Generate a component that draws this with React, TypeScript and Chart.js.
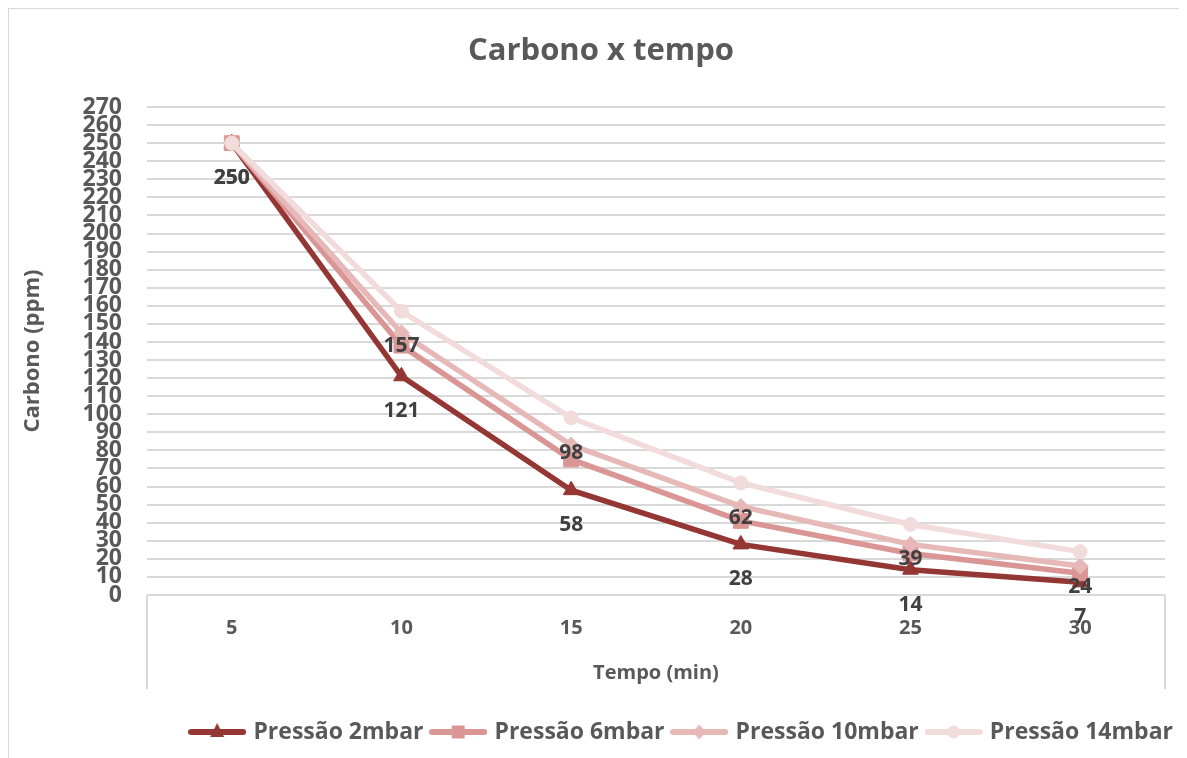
import React, { useEffect, useRef } from "react";
import { Chart, registerables } from "chart.js";

Chart.register(...registerables);

const categories = ["5", "10", "15", "20", "25", "30"];
const p2 = [250, 121, 58, 28, 14, 7];
const p6 = [250, 138, 75, 41, 23, 12];
const p10 = [250, 145, 83, 49, 28, 16];
const p14 = [250, 157, 98, 62, 39, 24];
const seriesNames = ["Pressão 2mbar", "Pressão 6mbar", "Pressão 10mbar", "Pressão 14mbar"];
const seriesColors = ["#943634", "#D99694", "#E6B9B8", "#F2DCDB"];
const seriesStyles = ["triangle", "rect", "rectRot", "circle"];
const seriesRadius = [9, 10.5, 8, 7];
const labeledSeries = [0, 3];

const FONT = "'Open Sans', 'Noto Sans', sans-serif";
const TXT = "#595959";

function makeLegendImage(color: string, style: string): HTMLCanvasElement {
  const c = document.createElement("canvas");
  c.width = 58;
  c.height = 22;
  const ctx = c.getContext("2d")!;
  const cy = 11;
  ctx.strokeStyle = color;
  ctx.lineWidth = 6;
  ctx.lineCap = "round";
  ctx.beginPath();
  ctx.moveTo(3, cy);
  ctx.lineTo(55, cy);
  ctx.stroke();
  ctx.fillStyle = color;
  const cx = 29;
  ctx.beginPath();
  if (style === "triangle") {
    ctx.moveTo(cx, cy - 9);
    ctx.lineTo(cx + 7, cy + 5);
    ctx.lineTo(cx - 7, cy + 5);
    ctx.closePath();
  } else if (style === "rect") {
    ctx.rect(cx - 6.5, cy - 6.5, 13, 13);
  } else if (style === "rectRot") {
    ctx.moveTo(cx, cy - 7.5);
    ctx.lineTo(cx + 6.5, cy);
    ctx.lineTo(cx, cy + 7.5);
    ctx.lineTo(cx - 6.5, cy);
    ctx.closePath();
  } else {
    ctx.arc(cx, cy, 6.5, 0, Math.PI * 2);
  }
  ctx.fill();
  return c;
}

const dataLabelPlugin = {
  id: "dataLabels",
  afterDatasetsDraw(chart: any) {
    const ctx = chart.ctx;
    ctx.save();
    ctx.font = `bold 21px ${FONT}`;
    ctx.fillStyle = "#404040";
    ctx.textAlign = "center";
    ctx.textBaseline = "middle";
    labeledSeries.forEach((di) => {
      const meta = chart.getDatasetMeta(di);
      const ds = chart.data.datasets[di];
      meta.data.forEach((el: any, i: number) => {
        ctx.fillText(String(ds.data[i]), el.x, el.y + 35);
      });
    });
    ctx.restore();
  },
};

const axisBoxPlugin = {
  id: "axisBox",
  afterDraw(chart: any) {
    const { ctx, chartArea } = chart;
    ctx.save();
    ctx.strokeStyle = "#d9d9d9";
    ctx.lineWidth = 2;
    ctx.beginPath();
    [chartArea.left, chartArea.right].forEach((x: number) => {
      ctx.moveTo(x, chartArea.bottom);
      ctx.lineTo(x, chartArea.bottom + 94);
    });
    ctx.stroke();
    ctx.restore();
  },
};

export default function App() {
  const ref = useRef<HTMLCanvasElement>(null);
  useEffect(() => {
    if (!ref.current) return;
    const values = [p2, p6, p10, p14];
    const legendImgs = seriesColors.map((c, i) => makeLegendImage(c, seriesStyles[i]));
    const chart = new Chart(ref.current, {
      type: "line",
      data: {
        labels: categories,
        datasets: values.map((v, i) => ({
          label: seriesNames[i],
          data: v,
          borderColor: seriesColors[i],
          backgroundColor: seriesColors[i],
          pointBackgroundColor: seriesColors[i],
          pointBorderColor: seriesColors[i],
          pointStyle: seriesStyles[i] as any,
          pointRadius: seriesRadius[i],
          pointBorderWidth: 1,
          borderWidth: 5.5,
          tension: 0,
          order: 4 - i,
          yAxisID: "y",
        })),
      },
      options: {
        responsive: false,
        animation: false,
        layout: { padding: { left: 10, right: 4, top: 0, bottom: 4.5 } },
        plugins: {
          tooltip: { enabled: false },
          title: {
            display: true,
            text: "Carbono x tempo",
            color: TXT,
            font: { family: FONT, size: 31, weight: "bold" },
            padding: { top: 24, bottom: 36.8 },
          },
          legend: {
            position: "bottom",
            align: "end",
            labels: {
              usePointStyle: true,
              pointStyleWidth: 49.5,
              padding: 10,
              color: TXT,
              font: { family: FONT, size: 23, weight: "bold" },
              sort: (a: any, b: any) => a.datasetIndex - b.datasetIndex,
              generateLabels: (ch: any) =>
                (Chart.defaults.plugins.legend.labels.generateLabels as any)(ch).map((l: any) => ({
                  ...l,
                  pointStyle: legendImgs[l.datasetIndex],
                })),
            },
          },
        },
        scales: {
          x: {
            offset: true,
            grid: { display: false, drawTicks: false },
            border: { display: false },
            ticks: {
              padding: 21,
              color: TXT,
              autoSkip: false,
              maxRotation: 0,
              font: { family: FONT, size: 20, weight: "bold" },
            },
            title: {
              display: true,
              text: "Tempo (min)",
              color: TXT,
              font: { family: FONT, size: 20, weight: "bold" },
              padding: { top: 0, bottom: 25.5 },
            },
          },
          y: {
            position: "left",
            min: 0,
            max: 270,
            grid: { color: "#d9d9d9", lineWidth: 2, drawTicks: false },
            border: { display: false },
            ticks: {
              stepSize: 10,
              autoSkip: false,
              maxTicksLimit: 100,
              padding: 25,
              color: TXT,
              font: { family: FONT, size: 23, weight: "bold" },
            },
            title: {
              display: true,
              text: "Carbono (ppm)",
              color: TXT,
              font: { family: FONT, size: 22, weight: "bold" },
              padding: { top: 0.8, bottom: 11.3 },
            },
          },
          y1: {
            position: "right",
            display: true,
            grid: { display: false, drawTicks: false },
            border: { display: false },
            ticks: { display: false },
            title: {
              display: true,
              text: "",
              font: { size: 10, lineHeight: 1 },
              padding: { top: 4, bottom: 4 },
            },
          },
        },
      } as any,
      plugins: [dataLabelPlugin, axisBoxPlugin],
    });
    return () => chart.destroy();
  }, []);

  return (
    <div
      style={{
        width: 1179,
        height: 750,
        borderTop: "1px solid #d9d9d9",
        borderLeft: "1px solid #d9d9d9",
        boxSizing: "border-box",
        overflow: "hidden",
        background: "#fff",
      }}
    >
      <canvas ref={ref} width={1178} height={749} style={{ display: "block" }} />
    </div>
  );
}
